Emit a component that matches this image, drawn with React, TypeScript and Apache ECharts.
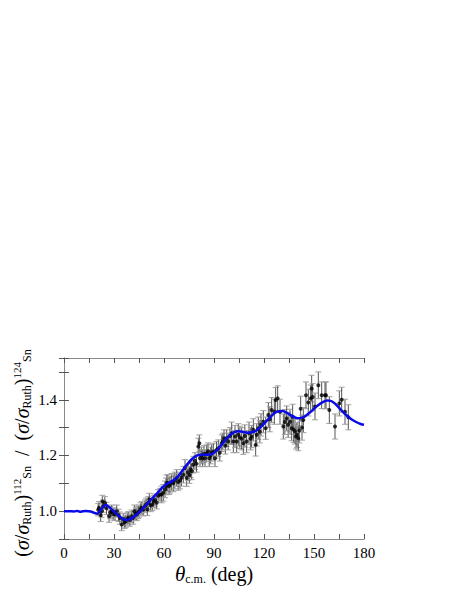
import React, { useEffect, useRef } from 'react';
import * as echarts from 'echarts';

// Data points: [theta_cm (deg), ratio, error]
const dataLow: number[][] = [
  [20.5, 1.005, 0.022], [21, 1.012, 0.022], [22, 0.985, 0.022], [22.6, 1.0, 0.022], [23, 1.035, 0.022],
  [23.6, 1.018, 0.022], [24.5, 1.03, 0.022], [25.5, 1.01, 0.022], [27, 0.982, 0.022], [27.8, 0.995, 0.022],
  [28.6, 1.0, 0.022], [29.5, 0.99, 0.022], [30.6, 0.988, 0.022], [31.6, 1.0, 0.022], [32.8, 0.985, 0.022],
  [33.5, 0.975, 0.022], [34.6, 0.952, 0.022], [35.6, 0.97, 0.022], [36.3, 0.96, 0.022], [37, 0.964, 0.022],
  [38, 0.972, 0.022], [38.6, 0.976, 0.022], [39.5, 0.968, 0.022], [40.6, 0.982, 0.022], [41.5, 0.975, 0.022],
  [42.2, 1.0, 0.022], [43, 0.99, 0.022], [43.6, 0.988, 0.022], [44.5, 0.995, 0.022], [45, 1.0, 0.022],
  [46, 1.008, 0.022], [46.6, 1.012, 0.022], [47.5, 1.005, 0.022], [48.6, 1.018, 0.022], [49.3, 1.025, 0.022],
  [50, 1.006, 0.022], [50.6, 1.03, 0.022], [51.2, 1.042, 0.022], [52, 1.02, 0.022], [53, 1.024, 0.022],
  [53.8, 1.035, 0.022], [54.6, 1.04, 0.022], [55.6, 1.03, 0.022], [56.5, 1.055, 0.022], [57.6, 1.06, 0.022],
];
const dataMid: number[][] = [
  [58.6, 1.06, 0.03], [59.6, 1.066, 0.03], [60.6, 1.078, 0.03], [61.2, 1.089, 0.03], [61.6, 1.10, 0.03],
  [62.2, 1.101, 0.03], [63, 1.09, 0.03], [63.6, 1.095, 0.03], [64.6, 1.105, 0.03], [65.6, 1.10, 0.03],
  [66.5, 1.11, 0.03], [67.6, 1.119, 0.03], [68.5, 1.105, 0.03], [69.6, 1.11, 0.03], [70.5, 1.12, 0.03],
  [71.6, 1.131, 0.03], [72.6, 1.155, 0.03], [73.6, 1.119, 0.03], [74.4, 1.14, 0.03], [75.2, 1.13, 0.03],
  [76, 1.15, 0.03], [76.6, 1.143, 0.03], [77.6, 1.167, 0.03], [78.6, 1.18, 0.03], [79.5, 1.17, 0.03],
  [80.6, 1.232, 0.03], [81.2, 1.244, 0.03], [81.6, 1.19, 0.03], [82.4, 1.2, 0.03], [83.2, 1.19, 0.03],
  [84, 1.205, 0.03], [84.6, 1.19, 0.03], [85.6, 1.208, 0.03], [86.4, 1.215, 0.03], [87.2, 1.19, 0.03],
  [88, 1.2, 0.03], [88.6, 1.21, 0.03], [89.6, 1.214, 0.03], [90.6, 1.19, 0.03], [91.5, 1.22, 0.03],
  [92.6, 1.226, 0.03], [93.5, 1.21, 0.03], [94.6, 1.244, 0.03], [95.3, 1.25, 0.03], [96, 1.262, 0.03],
  [96.8, 1.235, 0.03], [97.6, 1.262, 0.03], [98.5, 1.25, 0.03], [99.6, 1.27, 0.03],
];
const dataHigh: number[][] = [
  [100.6, 1.28, 0.04], [101.6, 1.25, 0.04], [102.6, 1.268, 0.04], [103.6, 1.25, 0.04], [104.6, 1.274, 0.04],
  [105.5, 1.265, 0.04], [106.6, 1.26, 0.04], [107.6, 1.244, 0.04], [108.5, 1.27, 0.04], [109.6, 1.25, 0.04],
  [111, 1.28, 0.04], [112, 1.26, 0.04], [112.6, 1.268, 0.04], [113.6, 1.292, 0.04], [115, 1.238, 0.04],
  [115.6, 1.274, 0.04], [116.6, 1.298, 0.04], [117.5, 1.285, 0.04], [118.2, 1.31, 0.04], [119.6, 1.321, 0.04],
  [121, 1.298, 0.04], [122.6, 1.345, 0.045], [123.5, 1.33, 0.045], [124.6, 1.363, 0.045], [126.2, 1.357, 0.045],
  [127, 1.399, 0.045], [128.2, 1.405, 0.045], [129.6, 1.357, 0.045], [131.6, 1.304, 0.045], [132.5, 1.32, 0.045],
  [133.6, 1.333, 0.045], [134.5, 1.31, 0.045], [135.6, 1.321, 0.045], [136.6, 1.298, 0.045], [137.2, 1.339, 0.045],
  [137.8, 1.292, 0.045], [138.6, 1.286, 0.045], [139.2, 1.268, 0.045], [139.8, 1.274, 0.045], [140.6, 1.262, 0.045],
  [141.2, 1.29, 0.045], [142, 1.368, 0.045], [142.8, 1.30, 0.045], [143.6, 1.327, 0.045],
];
const dataBack: number[][] = [
  [145.2, 1.416, 0.048], [146.6, 1.39, 0.048], [148, 1.405, 0.048], [148.6, 1.44, 0.048], [149.2, 1.41, 0.048],
  [150.6, 1.376, 0.048], [152.6, 1.452, 0.048], [154.6, 1.416, 0.048], [156.6, 1.416, 0.048], [157.2, 1.416, 0.048],
  [159.2, 1.363, 0.048], [162.6, 1.304, 0.045], [165.2, 1.387, 0.045], [166.6, 1.40, 0.045], [168.6, 1.357, 0.045],
  [170.6, 1.337, 0.045],
];

// Model curve: [theta_cm (deg), ratio]
const curve: number[][] = [
  [0, 1.0], [3, 1.0], [6, 0.999], [8, 1.001], [10, 0.998], [13, 1.001], [16, 0.999], [18, 0.994], [20, 0.991],
  [22, 1.005], [25, 1.022], [28, 1.01], [31, 0.993], [34, 0.978], [37, 0.968], [40, 0.973], [44, 0.99],
  [48, 1.014], [52, 1.04], [56, 1.065], [59, 1.085], [62, 1.099], [65, 1.108], [68, 1.122], [71, 1.145],
  [74, 1.168], [77, 1.188], [80, 1.2], [83, 1.203], [86, 1.203], [89, 1.206], [92, 1.22], [95, 1.242],
  [98, 1.264], [101, 1.28], [104, 1.287], [107, 1.285], [110, 1.282], [113, 1.283], [116, 1.292], [119, 1.308],
  [122, 1.327], [125, 1.345], [128, 1.358], [131, 1.36], [134, 1.352], [137, 1.341], [140, 1.334], [143, 1.336],
  [146, 1.347], [149, 1.362], [152, 1.378], [155, 1.391], [158, 1.397], [160, 1.396], [163, 1.384], [166, 1.365],
  [169, 1.347], [172, 1.332], [175, 1.321], [178, 1.313], [180, 1.31],
];

const xMin = 0, xMax = 180, xStep = 15;
const yMin = 0.9, yMax = 1.55, yStep = 0.1;

const FONT = '"Liberation Serif", "Times New Roman", "DejaVu Serif", serif';

export default function App() {
  const ref = useRef<HTMLDivElement>(null);
  useEffect(() => {
    if (!ref.current) return;
    const chart = echarts.init(ref.current, null, { renderer: 'svg' });
    const points = [...dataLow, ...dataMid, ...dataHigh, ...dataBack];
    const frame = { show: true, lineStyle: { color: '#8a8a8a', width: 1 } };
    const ticks = { show: true, inside: true, length: 5, lineStyle: { color: '#555', width: 1 } };
    const xLabel = (v: number) => (v % 30 === 0 ? String(v) : '');
    const yLabel = (v: number) => {
      const r = Math.round(v * 10);
      if (Math.abs(v * 10 - r) < 1e-6 && r % 2 === 0 && r >= 10) return (r / 10).toFixed(1);
      return '';
    };
    const labelStyle = { color: '#000', fontFamily: FONT, fontSize: 15 };
    chart.setOption({
      animation: false,
      backgroundColor: '#fff',
      textStyle: { fontFamily: FONT },
      grid: { left: 64, top: 358, width: 300, height: 181, containLabel: false },
      xAxis: [
        {
          type: 'value', min: xMin, max: xMax, interval: xStep, position: 'bottom',
          axisLine: frame, axisTick: ticks, splitLine: { show: false },
          axisLabel: { ...labelStyle, margin: 6, formatter: xLabel, showMinLabel: true, showMaxLabel: true },
        },
        {
          type: 'value', min: xMin, max: xMax, interval: xStep, position: 'top',
          axisLine: frame, axisTick: ticks, splitLine: { show: false }, axisLabel: { show: false },
        },
      ],
      yAxis: [
        {
          type: 'value', min: yMin, max: yMax, interval: yStep, position: 'left',
          axisLine: frame, axisTick: ticks, splitLine: { show: false },
          axisLabel: { ...labelStyle, margin: 7, formatter: yLabel },
        },
        {
          type: 'value', min: yMin, max: yMax, interval: yStep, position: 'right',
          axisLine: frame, axisTick: ticks, splitLine: { show: false }, axisLabel: { show: false },
        },
      ],
      graphic: [
        {
          type: 'text', x: 22, y: 453, rotation: Math.PI / 2,
          style: {
            text: '{n|(}{i|σ}{n|/}{i|σ}{sub|Ruth}{n|)}{sup|112}{sub|Sn}{n|  /  (}{i|σ}{n|/}{i|σ}{sub|Ruth}{n|)}{sup|124}{sub|Sn}',
            align: 'center', verticalAlign: 'middle', fontFamily: FONT,
            rich: {
              n: { fontSize: 20, fontFamily: FONT, fill: '#000', lineHeight: 30 },
              i: { fontSize: 20, fontFamily: FONT, fontStyle: 'italic', fill: '#000', lineHeight: 30 },
              sub: { fontSize: 12, fontFamily: FONT, fill: '#000', padding: [10, 0, 0, 0], lineHeight: 30 },
              sup: { fontSize: 11, fontFamily: FONT, fill: '#000', padding: [0, 0, 10, 0], lineHeight: 30 },
            },
          },
        },
        {
          type: 'text', x: 214, y: 574,
          style: {
            text: '{i|θ}{sub|c.m.}{n| (deg)}',
            align: 'center', verticalAlign: 'middle', fontFamily: FONT,
            rich: {
              n: { fontSize: 20, fontFamily: FONT, fill: '#000', lineHeight: 30 },
              i: { fontSize: 21, fontFamily: FONT, fontStyle: 'italic', fill: '#000', lineHeight: 30 },
              sub: { fontSize: 12, fontFamily: FONT, fill: '#000', padding: [10, 0, 0, 0], lineHeight: 30 },
            },
          },
        },
      ],
      series: [
        {
          type: 'custom',
          data: points,
          encode: { x: 0, y: 1 },
          z: 2,
          renderItem: (params: any, api: any) => {
            const x = api.value(0), y = api.value(1), e = api.value(2);
            const top = api.coord([x, y + e]);
            const bot = api.coord([x, y - e]);
            const w = 3;
            return {
              type: 'group',
              children: [
                { type: 'line', shape: { x1: top[0], y1: top[1], x2: bot[0], y2: bot[1] }, style: { stroke: '#555', lineWidth: 1 } },
                { type: 'line', shape: { x1: top[0] - w, y1: top[1], x2: top[0] + w, y2: top[1] }, style: { stroke: '#a0a0a0', lineWidth: 1 } },
                { type: 'line', shape: { x1: bot[0] - w, y1: bot[1], x2: bot[0] + w, y2: bot[1] }, style: { stroke: '#a0a0a0', lineWidth: 1 } },
              ],
            };
          },
        },
        {
          type: 'scatter',
          data: points.map((p) => [p[0], p[1]]),
          symbol: 'circle',
          symbolSize: 4,
          itemStyle: { color: '#000' },
          z: 3,
        },
        {
          type: 'line',
          data: curve,
          smooth: 0.4,
          showSymbol: false,
          symbol: 'none',
          lineStyle: { color: '#0a0ae8', width: 2.5 },
          z: 4,
        },
      ],
    });
    return () => chart.dispose();
  }, []);
  return <div ref={ref} style={{ position: 'absolute', left: 0, top: 0, width: 463, height: 599 }} />;
}
